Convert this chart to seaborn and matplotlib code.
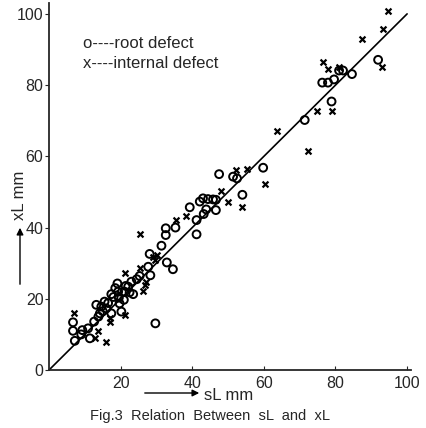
import numpy as np
import pandas as pd
import matplotlib
matplotlib.use("Agg")
import matplotlib.pyplot as plt
import seaborn as sns

# root defect (open circles): sL, xL in mm
root_sl = [6.7, 6.7, 7.2, 9.3, 9.0, 11.4, 10.9, 12.6, 13.2, 14.2, 14.6, 15.5, 16.0, 17.4,
           17.4, 19.1, 19.3, 19.5, 19.7, 20.2, 20.9, 21.1, 21.4, 22.1, 23.0, 23.5, 25.3,
           27.7, 28.1, 28.3, 29.7, 31.4, 32.6, 32.6, 32.9, 34.6, 35.3, 39.3, 41.2, 41.2,
           42.1, 43.0, 43.2, 43.9, 44.4, 45.8, 46.6, 46.6, 47.5, 51.4, 52.5, 54.0, 59.8,
           71.4, 76.3, 77.9, 78.9, 79.6, 81.0, 82.1, 84.6, 91.9,
           15.0, 16.5, 18.0, 22.5, 24.5, 18.5, 13.8]
root_xl = [13.4, 11.0, 8.2, 11.2, 10.0, 8.9, 11.7, 13.6, 18.3, 15.9, 17.8, 19.2, 17.3, 15.9,
           21.3, 24.3, 22.0, 20.3, 18.7, 16.4, 19.7, 22.0, 23.6, 23.4, 24.8, 21.3, 26.4,
           29.0, 32.6, 26.6, 13.1, 34.9, 37.9, 39.8, 30.2, 28.3, 40.0, 45.7, 38.1, 42.1,
           47.3, 48.2, 43.8, 45.1, 48.0, 47.9, 44.9, 47.8, 55.0, 54.3, 53.8, 49.2, 56.8,
           70.2, 80.7, 80.7, 75.4, 81.6, 84.1, 84.1, 83.1, 87.1,
           16.5, 18.8, 20.5, 21.8, 25.5, 23.0, 15.0]

# internal defect (crosses)
int_sl = [6.9, 12.8, 13.7, 16.0, 16.9, 21.1, 21.1, 25.3, 25.3, 26.3, 27.2, 29.0, 30.2,
          35.5, 38.2, 48.1, 50.0, 52.1, 53.9, 55.4, 60.2, 63.8, 72.3, 74.7, 76.4, 77.9,
          79.1, 81.0, 87.5, 93.1, 93.3, 94.7,
          17.0, 19.5, 26.8, 29.5]
int_xl = [15.9, 9.1, 11.0, 8.0, 13.6, 27.2, 15.4, 38.1, 28.6, 22.2, 24.8, 31.8, 32.3,
          42.1, 43.3, 50.3, 47.1, 56.2, 45.7, 56.4, 52.2, 67.1, 61.6, 72.8, 86.6, 84.6,
          72.8, 85.2, 93.0, 85.2, 95.7, 100.8,
          14.5, 21.5, 24.0, 31.0]

line_x = [0, 100]
line_y = [0, 100]

ticks = [0, 20, 40, 60, 80, 100]

root = pd.DataFrame({"sL": root_sl, "xL": root_xl})
internal = pd.DataFrame({"sL": int_sl, "xL": int_xl})

sns.set_style("ticks")
plt.rcParams['font.family'] = ['Liberation Sans', 'DejaVu Sans']

fig = plt.figure(figsize=(4.27, 4.28), dpi=100)
ax = fig.add_axes([0.1148, 0.1355, 0.847, 0.857])

ax.plot(line_x, line_y, color="black", lw=1.2)
sns.scatterplot(data=root, x="sL", y="xL", ax=ax, marker="o", s=32,
                facecolor="none", edgecolor="black", linewidth=1.4)
sns.scatterplot(data=internal, x="sL", y="xL", ax=ax, marker="x", s=18,
                color="black", linewidth=1.6)

ax.set_xlim(0, 101)
ax.set_ylim(0, 103)
ax.set_xticks(ticks[1:])
ax.set_yticks(ticks)
ax.tick_params(axis="x", direction="in", length=3, pad=4, labelsize=11.5)
ax.tick_params(axis="y", direction="out", length=3, pad=1, labelsize=11.5)
ax.set_xlabel("")
ax.set_ylabel("")
sns.despine(ax=ax)
for s in ["left", "bottom"]:
    ax.spines[s].set_linewidth(1.3)

ax.text(0.094, 0.891, "o----root defect", transform=ax.transAxes,
        fontsize=12, va="center")
ax.text(0.094, 0.836, "x----internal defect", transform=ax.transAxes,
        fontsize=12, va="center")

# axis labels with arrows
ax.annotate("", xy=(20/427, 1-225/428), xytext=(20/427, 1-287/428),
            xycoords="figure fraction", textcoords="figure fraction",
            arrowprops=dict(arrowstyle="-|>", lw=1, color="black"))
fig.text(20/427, 1-195/428, "xL mm", rotation=90, ha="center", va="center", fontsize=12)
ax.annotate("", xy=(202/427, 1-393/428), xytext=(142/427, 1-393/428),
            xycoords="figure fraction", textcoords="figure fraction",
            arrowprops=dict(arrowstyle="-|>", lw=1, color="black"))
fig.text(204/427, 1-395/428, "sL mm", ha="left", va="center", fontsize=12)
fig.text(210/427, 1-416/428, "Fig.3  Relation  Between  sL  and  xL",
         ha="center", va="center", fontsize=10.5)

fig.savefig("out.png", dpi=100)
